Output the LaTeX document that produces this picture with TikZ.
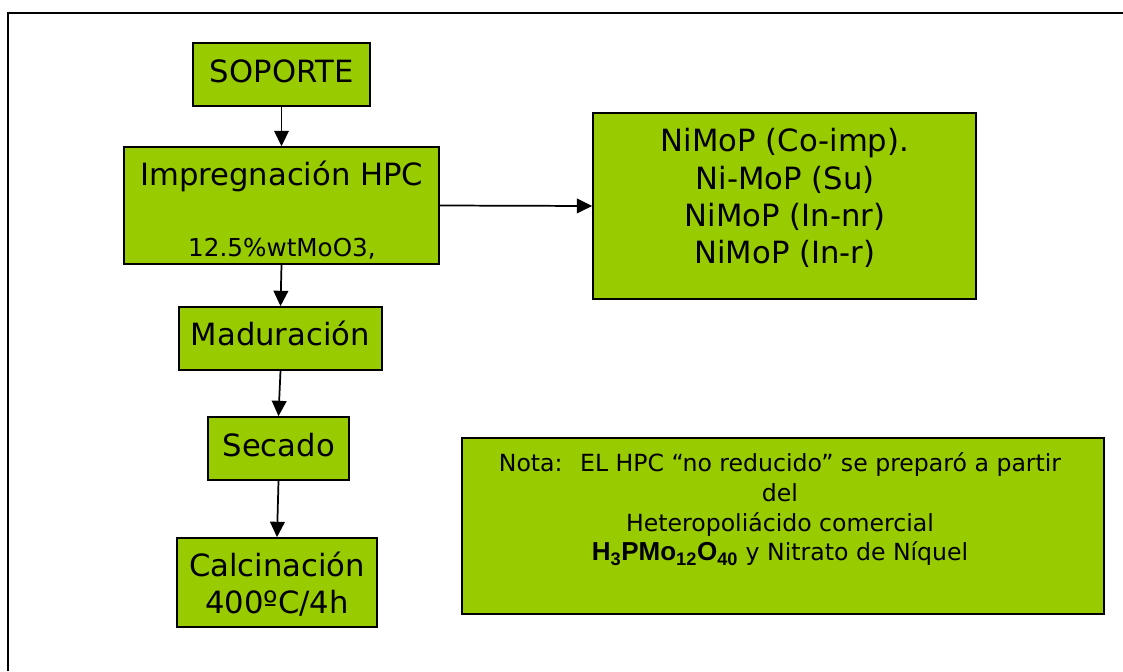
\documentclass[tikz,border=0pt]{standalone}
\usepackage{fontspec}
\setmainfont{DejaVu Sans}
\newfontfamily\formulafont{Liberation Sans}
\usetikzlibrary{arrows.meta}
\definecolor{boxgreen}{HTML}{99CC00}
\begin{document}
\begin{tikzpicture}[x=0.75pt,y=-0.75pt,
  stepbox/.style={draw=black,line width=1.3pt,fill=boxgreen,inner sep=0pt},
  boxtext/.style={anchor=base,inner sep=0pt,font=\fontsize{23}{28}\selectfont},
  smalltext/.style={anchor=base,inner sep=0pt,font=\fontsize{18.5}{22}\selectfont},
  notetext/.style={anchor=base,inner sep=0pt,font=\fontsize{17.7}{22.3}\selectfont},
  flow/.style={-{Triangle[length=11.5pt,width=11pt]},line width=1.3pt}
]
\useasboundingbox (0,0) rectangle (1123,671);
\fill[white] (0,0) rectangle (1123,671);
% page frame (top and left edges)
\draw[line width=1.6pt] (8,671) -- (8,13) -- (1123,13);

% process boxes
\node[stepbox,minimum width=132.75pt,minimum height=47.25pt] (soporte) at (281.5,74.5) {};
\node[stepbox,minimum width=236.25pt,minimum height=87.75pt] (impreg) at (281.5,205.5) {};
\node[stepbox,minimum width=287.25pt,minimum height=139.5pt] (variants) at (784.5,206) {};
\node[stepbox,minimum width=152.25pt,minimum height=47.25pt] (madur) at (280.5,338.5) {};
\node[stepbox,minimum width=105.75pt,minimum height=47.25pt] (secado) at (278.5,448.5) {};
\node[stepbox,minimum width=150pt,minimum height=66.75pt] (calcin) at (277,582.5) {};
\node[stepbox,minimum width=481.5pt,minimum height=132pt] (nota) at (783,526) {};

% box texts
\node[boxtext] (soporte-t) at (281.7,82.7) {SOPORTE};
\node[boxtext] (impreg-t) at (281.7,185) {Impregnación HPC};
\node[smalltext] (impreg-s) at (282,256.7) {12.5\%wtMoO3,};
\node[boxtext] (variants-t) at (785,151.7)
  {\begin{tabular}[t]{@{}c@{}}NiMoP (Co-imp).\\ Ni-MoP (Su)\\ NiMoP (In-nr)\\ NiMoP (In-r)\end{tabular}};
\node[boxtext] (madur-t) at (280.3,345.7) {Maduración};
\node[boxtext] (secado-t) at (278.7,456) {Secado};
\node[boxtext,font=\fontsize{23}{27.5}\selectfont] (calcin-t) at (277,576.7)
  {\begin{tabular}[t]{@{}c@{}}Calcinación\\ 400ºC/4h\end{tabular}};
\node[notetext] (nota-t) at (780,471.7)
  {\begin{tabular}[t]{@{}c@{}}Nota: \ EL HPC “no reducido” se preparó a partir\\ del\\ Heteropoliácido comercial\\
   {\formulafont\bfseries\fontsize{19.5}{22.3}\selectfont H\textsubscript{3}PMo\textsubscript{12}O\textsubscript{40}} y Nitrato de Níquel\end{tabular}};

% connectors
\draw[flow] (soporte) -- (impreg);
\draw[flow] (impreg.east) -- (variants.west);
\draw[flow] (impreg.south) -- (madur.north);
\draw[flow] (madur.south) -- (secado.north);
\draw[flow] (secado.south) -- (calcin.north);
\end{tikzpicture}
\end{document}
